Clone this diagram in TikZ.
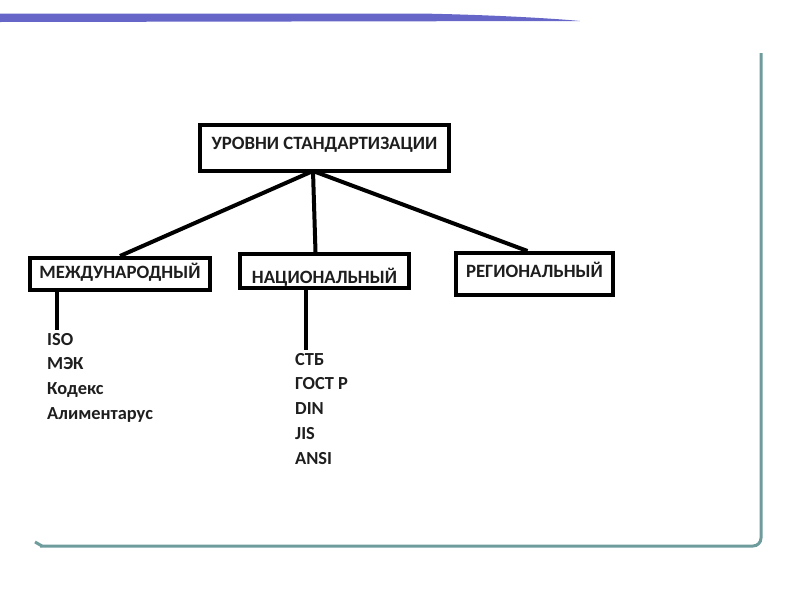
\documentclass[tikz,border=0pt]{standalone}
\usepackage{fontspec}
\setmainfont{Carlito}
\usetikzlibrary{positioning}

\definecolor{barblue}{HTML}{6666C8}
\definecolor{frameteal}{HTML}{6E9C9C}
\definecolor{inkgray}{HTML}{1E1E1E}

\begin{document}
\begin{tikzpicture}[x=1pt, y=-1pt, level box/.style={draw, line width=4pt, inner sep=0pt, text=inkgray, font=\fontsize{18.8}{22}\selectfont\bfseries}, list item/.style={anchor=base west, inner sep=0pt, text=inkgray, font=\fontsize{18.4}{22}\selectfont\bfseries}, link/.style={line width=4pt}]
	\useasboundingbox (0,0) rectangle (800,600);

	% slide decoration
	\fill[barblue] (0,13.5) -- (420,13.5) .. controls (500,15) and (560,19) .. (580,21) -- (0,22) -- cycle;
	\draw[frameteal, line width=3pt, rounded corners=8pt] (761,53) -- (761,546) -- (40,546);
	\draw[frameteal, line width=3pt] (35,542) -- (42,546);

	\node[level box, minimum width=249pt, minimum height=46pt, text height=9pt, text depth=6pt] (top) at (324.5,148) {УРОВНИ СТАНДАРТИЗАЦИИ};
	\node[level box, minimum width=180pt, minimum height=32pt, text height=11.6pt, text depth=2pt] (intl) at (120,274) {МЕЖДУНАРОДНЫЙ};
	\node[level box, minimum width=169pt, minimum height=34pt, text height=24.4pt, text depth=0pt] (nat) at (324.5,271) {НАЦИОНАЛЬНЫЙ};
	\node[level box, minimum width=157pt, minimum height=42pt, text height=9.4pt, text depth=2pt] (reg) at (534.5,274) {РЕГИОНАЛЬНЫЙ};

	\node[list item] (iso) at (47,345) {ISO};
	\node[list item] (mek) at (47,369.7) {МЭК};
	\node[list item] (codex) at (47,394.4) {Кодекс};
	\node[list item] (alim) at (47,419.1) {Алиментарус};

	\node[list item] (stb) at (295,365) {СТБ};
	\node[list item] (gost) at (295,389.8) {ГОСТ Р};
	\node[list item] (din) at (295,414.6) {DIN};
	\node[list item] (jis) at (295,439.4) {JIS};
	\node[list item] (ansi) at (295,464.2) {ANSI};

	\coordinate (hub) at (313,171);
	\coordinate (intl end) at (57,330);
	\coordinate (nat end) at (306,350);

	\path[link]
		(hub) edge (intl.north)
			edge ([xshift=-9pt]nat.north)
			edge ([xshift=-7pt]reg.north)
		(intl.south -| intl end) edge (intl end)
		(nat.south -| nat end) edge (nat end);
\end{tikzpicture}
\end{document}
